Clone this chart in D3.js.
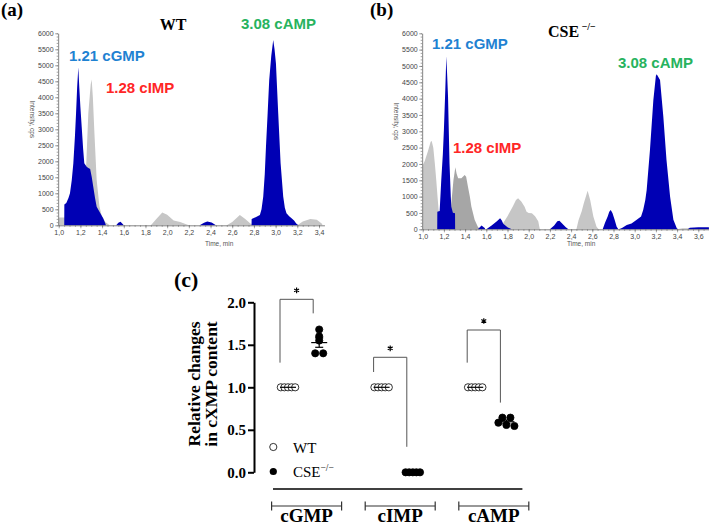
<!DOCTYPE html>
<html><head><meta charset="utf-8">
<script src="https://cdn.jsdelivr.net/npm/d3@7"></script>
<style>body{margin:0;background:#fff}svg{display:block}</style>
</head><body>
<svg id="c" width="709" height="525"></svg>
<script>
// ---------- DATA ----------
// Chromatogram (a) WT : [time min, intensity cps]
const wtBlue = [[1.000,0],[1.051,0],[1.052,650],[1.07,700],[1.09,850],[1.104,1000],[1.12,1400],[1.135,1940],[1.15,2800],[1.16,3500],[1.17,4300],[1.181,4940],[1.19,4300],[1.20,3700],[1.212,3080],[1.225,2400],[1.236,1940],[1.258,1830],[1.27,1800],[1.29,1760],[1.305,1500],[1.319,1200],[1.335,850],[1.35,580],[1.38,400],[1.41,220],[1.43,60],[1.435,0],[1.53,0],[1.55,80],[1.57,110],[1.59,40],[1.60,0],[2.30,0],[2.34,80],[2.37,120],[2.41,90],[2.45,0],[2.778,0],[2.779,200],[2.82,260],[2.855,320],[2.87,500],[2.886,900],[2.90,1600],[2.911,2450],[2.925,3400],[2.941,4540],[2.96,5300],[2.978,5790],[2.99,5500],[3.003,5060],[3.024,3500],[3.046,1940],[3.07,900],[3.085,550],[3.10,380],[3.125,280],[3.147,220],[3.17,150],[3.19,60],[3.21,0],[3.45,0]];
const wtGray = [[1.00,240],[1.06,240],[1.08,150],[1.20,150],[1.24,1000],[1.255,2000],[1.273,3500],[1.295,4400],[1.304,4560],[1.315,4000],[1.328,2980],[1.35,1420],[1.375,600],[1.397,290],[1.43,100],[1.47,0],[1.85,0],[1.90,200],[1.955,400],[2.00,330],[2.06,150],[2.12,100],[2.20,0],[2.55,0],[2.60,100],[2.67,320],[2.72,200],[2.77,50],[2.80,0],[3.20,0],[3.25,120],[3.32,200],[3.38,170],[3.43,40]];
// Chromatogram (b) CSE-/-
const cseBlue = [[1.000,0],[1.137,0],[1.138,540],[1.16,560],[1.175,1500],[1.19,2300],[1.20,3040],[1.213,4260],[1.223,5300],[1.231,4700],[1.239,4060],[1.253,2020],[1.265,1000],[1.27,690],[1.285,510],[1.305,490],[1.306,0],[1.52,0],[1.555,120],[1.585,40],[1.59,0],[1.60,0],[1.65,120],[1.70,250],[1.73,340],[1.745,280],[1.76,170],[1.80,60],[1.84,0],[2.20,0],[2.24,120],[2.27,250],[2.29,265],[2.32,160],[2.35,60],[2.375,0],[2.698,0],[2.72,200],[2.745,390],[2.76,540],[2.774,590],[2.79,500],[2.81,300],[2.83,80],[2.846,0],[2.862,20],[2.88,40],[2.925,130],[2.97,180],[3.019,290],[3.06,390],[3.08,590],[3.10,900],[3.113,1200],[3.144,2430],[3.176,3960],[3.20,4700],[3.208,4750],[3.239,4570],[3.27,3450],[3.30,2120],[3.334,1000],[3.365,290],[3.397,30],[3.41,0],[3.50,0],[3.52,50],[3.60,60],[3.70,60]];
const cseLightGray = [[1.00,1950],[1.02,2100],[1.05,2400],[1.075,2680],[1.085,2700],[1.10,2500],[1.115,2000],[1.128,1500],[1.14,1000],[1.15,600],[1.165,200],[1.18,0],[1.74,0],[1.757,180],[1.80,400],[1.85,700],[1.88,900],[1.90,950],[1.93,850],[1.96,700],[1.98,540],[2.00,500],[2.03,490],[2.06,400],[2.09,250],[2.105,0],[2.45,0],[2.47,280],[2.50,550],[2.52,800],[2.556,1180],[2.58,900],[2.61,390],[2.64,80],[2.66,0],[3.40,0],[3.45,30],[3.70,40]];
const cseDarkGray = [[1.25,0],[1.27,800],[1.29,1500],[1.308,1900],[1.32,1700],[1.334,1560],[1.365,1560],[1.396,1660],[1.41,1610],[1.427,1300],[1.445,1000],[1.459,700],[1.49,290],[1.52,80],[1.54,0]];
const chromYTicks = d3.range(0, 6001, 500);
const chromXTicksA = d3.range(1.0, 3.41, 0.2);
const chromXTicksB = d3.range(1.0, 3.61, 0.2);

// Panel (c)
const groups = ["cGMP", "cIMP", "cAMP"];
const wtValues = [[1,1,1,1,1],[1,1,1,1,1],[1,1,1,1,1]];
const cseValues = [[1.68,1.55,1.60,1.40,1.40],[0,0,0,0,0],[0.643,0.643,0.584,0.557,0.545]];
const sigTop = [2.035, 1.353, 1.674];
const sigLeftBottom = [1.29, 1.18, 1.29];
const sigRightBottom = [1.87, 0.30, 0.82];
const yTicksC = [0, 0.5, 1.0, 1.5, 2.0];

// ---------- DRAW ----------
const svg = d3.select("#c");
const SANS = "'Liberation Sans', Arial, sans-serif";
const SERIF = "'Liberation Serif', 'Times New Roman', serif";
const BLUE = "#0000b4";

function chrom(cfg) {
  const x = d3.scaleLinear().domain([1.0, cfg.tEnd]).range(cfg.xr);
  const y = d3.scaleLinear().domain([0, 6000]).range(cfg.yr);
  const g = svg.append("g");
  const area = d3.area().x(d => x(d[0])).y0(y(0)).y1(d => y(d[1]));
  cfg.layers.forEach(l => g.append("path").datum(l.data).attr("d", area).attr("fill", l.color));
  const ax = x.copy().domain([0.995, cfg.tMax]).range([x(0.995), x(cfg.tMax)]);
  const xa = g.append("g").attr("transform", `translate(0,${y(0)})`)
    .call(d3.axisBottom(ax).tickValues(cfg.xTicks).tickSize(3).tickSizeOuter(0)
      .tickFormat(d => d3.format(".1f")(d).replace(".", ",")));
  g.append("g").attr("transform", `translate(0,${y(0)})`)
    .call(d3.axisBottom(ax).tickValues(d3.range(1.0, cfg.tMax, 0.05)).tickSize(1.5).tickFormat("")).select(".domain").remove();
  g.append("g").attr("transform", `translate(${x(0.995)},0)`)
    .call(d3.axisLeft(y).tickValues(chromYTicks).tickSize(3).tickPadding(1.5).tickSizeOuter(0).tickFormat(d3.format("d")));
  g.append("g").attr("transform", `translate(${x(0.995)},0)`)
    .call(d3.axisLeft(y).tickValues(d3.range(0, 6001, 100)).tickSize(1.5).tickFormat("")).select(".domain").remove();
  g.selectAll(".domain").attr("stroke", "#666").attr("stroke-width", 0.8);
  g.selectAll(".tick line").attr("stroke", "#666").attr("stroke-width", 0.6);
  g.selectAll(".tick text").attr("font-family", SANS).attr("font-size", 7).attr("fill", "#444");
  xa.selectAll(".tick text").attr("dy", "0.6em");
  const cy = (y(0) + y(6000)) / 2 - 10;
  g.append("text").attr("x", cfg.ylabX).attr("y", cy)
    .attr("transform", `rotate(90,${cfg.ylabX},${cy})`)
    .attr("text-anchor", "middle").attr("font-family", SANS).attr("font-size", 6.5).attr("fill", "#555")
    .text("Intensity, cps");
  g.append("text").attr("x", cfg.timeX).attr("y", 246).attr("font-family", SANS).attr("font-size", 6.5)
    .attr("fill", "#555").text("Time, min");
  g.append("text").attr("x", cfg.panelX).attr("y", 16).attr("font-family", SERIF).attr("font-weight", "bold")
    .attr("font-size", 19).attr("fill", "#000").text(cfg.panel);
  cfg.labels.forEach(l => g.append("text").attr("x", l[0]).attr("y", l[1]).attr("font-family", SANS)
    .attr("font-weight", "bold").attr("font-size", 15).attr("fill", l[3]).text(l[2]));
  return g;
}

chrom({
  tEnd: 3.4, tMax: 3.45, xr: [58.7, 319], yr: [225.3, 33.3], xTicks: chromXTicksA,
  layers: [{data: wtGray, color: "#c6c6c6"}, {data: wtBlue, color: BLUE}],
  ylabX: 30, timeX: 205, panel: "(a)", panelX: 1,
  labels: [[69, 60.5, "1.21 cGMP", "#1f82d2"], [106, 93, "1.28 cIMP", "#ff2626"], [241, 28.5, "3.08 cAMP", "#27b35e"]]
});
chrom({
  tEnd: 3.6, tMax: 3.72, xr: [422.7, 698.3], yr: [229.3, 33.3], xTicks: chromXTicksB,
  layers: [{data: cseLightGray, color: "#c6c6c6"}, {data: cseDarkGray, color: "#a6a6a6"}, {data: cseBlue, color: BLUE}],
  ylabX: 394, timeX: 567, panel: "(b)", panelX: 370,
  labels: [[432, 49, "1.21 cGMP", "#1f82d2"], [453, 152.5, "1.28 cIMP", "#ff2626"], [618, 68, "3.08 cAMP", "#27b35e"]]
});
svg.append("text").attr("x", 173).attr("y", 30).attr("text-anchor", "middle").attr("font-family", SERIF)
  .attr("font-weight", "bold").attr("font-size", 16).attr("fill", "#000").text("WT");
const t2 = svg.append("text").attr("x", 548).attr("y", 37).attr("font-family", SERIF).attr("font-weight", "bold").attr("font-size", 16).attr("fill", "#000");
t2.append("tspan").text("CSE");
t2.append("tspan").attr("dy", -7).attr("font-size", 10).text(" −/−");

// ---------- Panel (c) ----------
const xc = d3.scaleLinear().domain([0, 7]).range([288, 506.4]);
const yc = d3.scaleLinear().domain([0, 2]).range([472.3, 302.3]);
const gc = svg.append("g");
gc.append("text").attr("x", 174).attr("y", 287).attr("font-family", SERIF).attr("font-weight", "bold")
  .attr("font-size", 22).attr("fill", "#000").text("(c)");
const yAx = gc.append("g").attr("transform", "translate(254,0)")
  .call(d3.axisLeft(yc).tickValues(yTicksC).tickSize(6).tickPadding(2).tickSizeOuter(0).tickFormat(d3.format(".1f")));
yAx.selectAll(".domain,.tick line").attr("stroke", "#000").attr("stroke-width", 2);
yAx.selectAll(".tick text").attr("font-family", SERIF).attr("font-weight", "bold").attr("font-size", 15).attr("fill", "#000");
const yl = gc.append("text").attr("transform", "translate(200,384) rotate(-90)").attr("text-anchor", "middle")
  .attr("font-family", SERIF).attr("font-weight", "bold").attr("font-size", 17.5).attr("fill", "#000");
yl.append("tspan").attr("x", 0).attr("y", 0).text("Relative changes");
yl.append("tspan").attr("x", 0).attr("y", 17).text("in cXMP content");

const R = 3.6;
function rowOffsets(vals, thr, dense, normal) {
  const idx = vals.map((v, i) => i).sort((a, b) => vals[b] - vals[a]);
  const rows = [];
  idx.forEach(i => {
    const r = rows[rows.length - 1];
    if (r && vals[r[0]] - vals[i] < thr) r.push(i); else rows.push([i]);
  });
  const off = new Array(vals.length).fill(0);
  rows.forEach(r => {
    const s = r.length >= 4 ? dense : normal;
    r.forEach((i, j) => off[i] = (j - (r.length - 1) / 2) * s);
  });
  return off;
}
const star = d3.symbol().type(d3.symbolAsterisk).size(22);

groups.forEach((name, gi) => {
  [[wtValues[gi], 3 * gi, false], [cseValues[gi], 3 * gi + 1, true]].forEach(([vals, col, filled]) => {
    const off = rowOffsets(vals, 0.05, 3.6, 8);
    const cx = xc(col);
    gc.selectAll(null).data(vals).enter().append("circle")
      .attr("cx", (d, i) => cx + off[i]).attr("cy", d => yc(d)).attr("r", R)
      .attr("fill", filled ? "#000" : "#fff").attr("stroke", "#000").attr("stroke-width", 0.8);
    const m = d3.mean(vals);
    const sem = (d3.deviation(vals) || 0) / Math.sqrt(vals.length);
    gc.append("line").attr("x1", cx - 8).attr("x2", cx + 8).attr("y1", yc(m)).attr("y2", yc(m)).attr("stroke", "#000").attr("stroke-width", 1.2);
    if (sem > 0) {
      gc.append("line").attr("x1", cx).attr("x2", cx).attr("y1", yc(m - sem)).attr("y2", yc(m + sem)).attr("stroke", "#000").attr("stroke-width", 1.2);
      [m - sem, m + sem].forEach(v => gc.append("line").attr("x1", cx - 4).attr("x2", cx + 4).attr("y1", yc(v)).attr("y2", yc(v)).attr("stroke", "#000").attr("stroke-width", 1.2));
    }
  });
  const xl = xc(3 * gi) - 8, xr = xc(3 * gi + 1) - 6;
  gc.append("path").attr("d", `M${xl},${yc(sigLeftBottom[gi])}V${yc(sigTop[gi])}H${xr}V${yc(sigRightBottom[gi])}`)
    .attr("fill", "none").attr("stroke", "#555").attr("stroke-width", 1);
  gc.append("path").attr("d", star).attr("transform", `translate(${(xl + xr) / 2},${yc(sigTop[gi]) - 9})`)
    .attr("fill", "none").attr("stroke", "#000").attr("stroke-width", 1.2);
  const gcx = (xc(3 * gi) + xc(3 * gi + 1)) / 2 + 3;
  gc.append("path").attr("d", `M${gcx - 35},${501.5}V${510.5}M${gcx - 35},506H${gcx + 35}M${gcx + 35},501.5V510.5`)
    .attr("fill", "none").attr("stroke", "#333").attr("stroke-width", 1.2);
  gc.append("text").attr("x", gcx).attr("y", 522).attr("text-anchor", "middle").attr("font-family", SERIF)
    .attr("font-weight", "bold").attr("font-size", 19).attr("fill", "#000").text(name);
});
gc.append("line").attr("x1", xc(0) - 15).attr("x2", xc(7) + 16).attr("y1", 489).attr("y2", 489)
  .attr("stroke", "#000").attr("stroke-width", 1.5);
gc.append("circle").attr("cx", 273.3).attr("cy", 447).attr("r", R).attr("fill", "#fff").attr("stroke", "#000").attr("stroke-width", 0.8);
gc.append("circle").attr("cx", 273.3).attr("cy", 471.5).attr("r", R).attr("fill", "#000");
gc.append("text").attr("x", 293).attr("y", 452.7).attr("font-family", SERIF).attr("font-size", 15).attr("fill", "#000").text("WT");
const lt = gc.append("text").attr("x", 293).attr("y", 477).attr("font-family", SERIF).attr("font-size", 15).attr("fill", "#000");
lt.append("tspan").text("CSE");
lt.append("tspan").attr("dy", -6).attr("font-size", 9.5).text("−/−");
</script>
</body></html>
